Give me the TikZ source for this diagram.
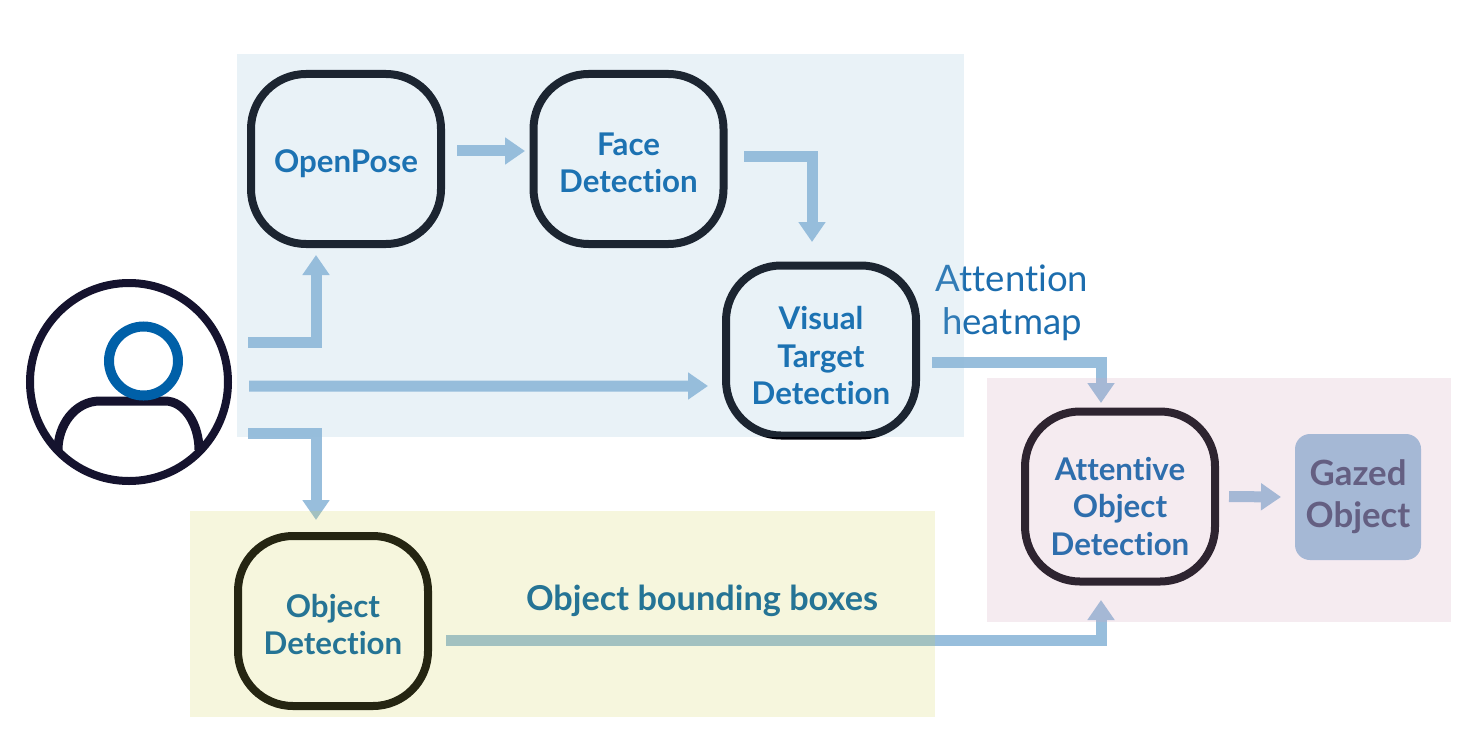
\documentclass[tikz,border=0pt]{standalone}
\usepackage{xcolor}
\usepackage{fontspec}
\setmainfont{Lato}[Ligatures=NoCommon]
\usepackage{tikz}
\usetikzlibrary{arrows.meta}
\definecolor{flowblue}{HTML}{98BEDC}
\definecolor{textblue}{HTML}{1C6DAE}
\definecolor{inkdark}{HTML}{15132E}
\definecolor{stageink}{HTML}{000008}
\definecolor{headblue}{HTML}{0060A8}
\definecolor{gazedink}{RGB}{69,76,114}
\definecolor{blueveil}{RGB}{143,189,219}
\definecolor{yellowveil}{RGB}{210,210,67}
\definecolor{pinkveil}{RGB}{214,164,191}
\tikzset{
    stage/.style = {draw=stageink, line width=0.08cm, rounded corners=0.55cm, minimum width=1.9cm, minimum height=1.7cm, inner sep=0pt, outer sep=0pt, align=center, text=headblue, font=\bfseries\fontsize{8.9}{10.7}\selectfont, text height=#1},
    flow/.style = {draw=flowblue, line width=0.11cm, -{Triangle[width=0.26cm,length=0.2cm]}},
    panelblue/.style = {fill=blueveil, opacity=0.196},
    panelyellow/.style = {fill=yellowveil, opacity=0.18},
    panelpink/.style = {fill=pinkveil, opacity=0.22},
}
\begin{document}
\begin{tikzpicture}
\useasboundingbox (0,0) rectangle (14.62,7.5);
\fill[white] (0,0) rectangle (14.62,7.5);
% user icon
\draw[inkdark, line width=0.09cm] (0.58,3.0) .. controls (0.58,3.25) and (0.75,3.49) .. (1.0,3.49) -- (1.65,3.49) .. controls (1.85,3.49) and (1.99,3.25) .. (1.99,3.0);
\node[circle, draw=inkdark, line width=0.08cm, minimum size=1.98cm, inner sep=0pt, outer sep=0pt] at (1.29,3.68) (user) {};
\node[circle, draw=headblue, line width=0.1cm, minimum size=0.69cm, inner sep=0pt, outer sep=0pt] at (1.435,3.89) (head) {};
% stages
\node[stage=9.2pt] at (3.46,5.91) (openpose) {OpenPose};
\node[stage=19.2pt] at (6.285,5.91) (facedet) {Face\\Detection};
\node[stage=31pt] at (8.21,3.995) (visual) {Visual\\Target\\Detection};
\node[stage=19.2pt] at (3.33,1.29) (objdet) {Object\\Detection};
\node[stage=33.6pt] at (11.20,2.535) (attentive) {Attentive\\Object\\Detection};
\node[fill=flowblue, rounded corners=0.15cm, minimum width=1.26cm, minimum height=1.26cm, inner sep=0pt, outer sep=0pt, align=center, text=gazedink, font=\bfseries\fontsize{9.9}{11.9}\selectfont] at (13.58,2.53) (gazed) {Gazed\\Object};
\node[textblue, align=center, font=\fontsize{10.4}{12.2}\selectfont] at (10.12,4.47) (heatlabel) {Attention\\heatmap};
\node[headblue, font=\bfseries\fontsize{9.75}{11}\selectfont] at (7.02,1.49) (boxlabel) {Object bounding boxes};
% connectors
\draw[flow] ([shift={(1.19,0.40)}]user.center) -| ([shift={(-0.30,-0.11)}]openpose.south);
\draw[flow] ([shift={(1.20,-0.04)}]user.center) -- ([shift={(-0.18,-0.355)}]visual.west);
\draw[flow] ([shift={(1.19,-0.51)}]user.center) -| ([shift={(-0.17,0.16)}]objdet.north);
\draw[flow] ([shift={(0.16,0.08)}]openpose.east) -- ([shift={(-0.085,0.08)}]facedet.west);
\draw[flow] ([shift={(0.205,0.02)}]facedet.east) -| ([shift={(-0.09,0.235)}]visual.north);
\draw[flow] ([shift={(0.16,-0.115)}]visual.east) -| ([shift={(-0.19,0.085)}]attentive.north);
\draw[flow] ([shift={(0.18,-0.19)}]objdet.east) -| ([shift={(-0.19,-0.185)}]attentive.south);
\draw[flow] ([xshift=0.14cm]attentive.east) -- ([xshift=-0.14cm]gazed.west);
% panels
\fill[panelblue] (2.37,6.96) rectangle (9.64,3.13);
\fill[panelyellow] (1.90,2.39) rectangle (9.35,0.33);
\fill[panelpink] (9.87,3.72) rectangle (14.51,1.28);
\end{tikzpicture}
\end{document}
